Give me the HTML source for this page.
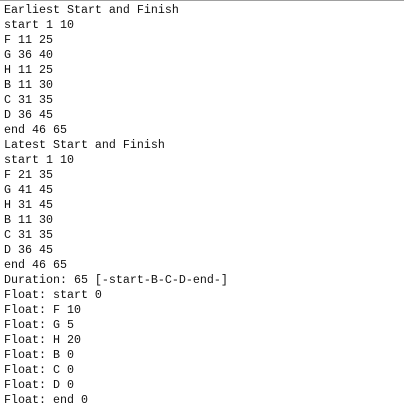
<!DOCTYPE html>
<html><head><meta charset="utf-8"><style>
html,body{margin:0;padding:0;background:#fff;width:404px;height:413px;overflow:hidden}
.top{position:absolute;left:0;top:0;width:404px;height:1px;background:#a0a0a0}
pre{position:absolute;left:4px;top:3px;margin:0;font-family:"Liberation Mono",monospace;font-size:11.67px;line-height:15px;color:#111}
</style></head><body><div class="top"></div><pre>Earliest Start and Finish
start 1 10
F 11 25
G 36 40
H 11 25
B 11 30
C 31 35
D 36 45
end 46 65
Latest Start and Finish
start 1 10
F 21 35
G 41 45
H 31 45
B 11 30
C 31 35
D 36 45
end 46 65
Duration: 65 [-start-B-C-D-end-]
Float: start 0
Float: F 10
Float: G 5
Float: H 20
Float: B 0
Float: C 0
Float: D 0
Float: end 0</pre></body></html>
